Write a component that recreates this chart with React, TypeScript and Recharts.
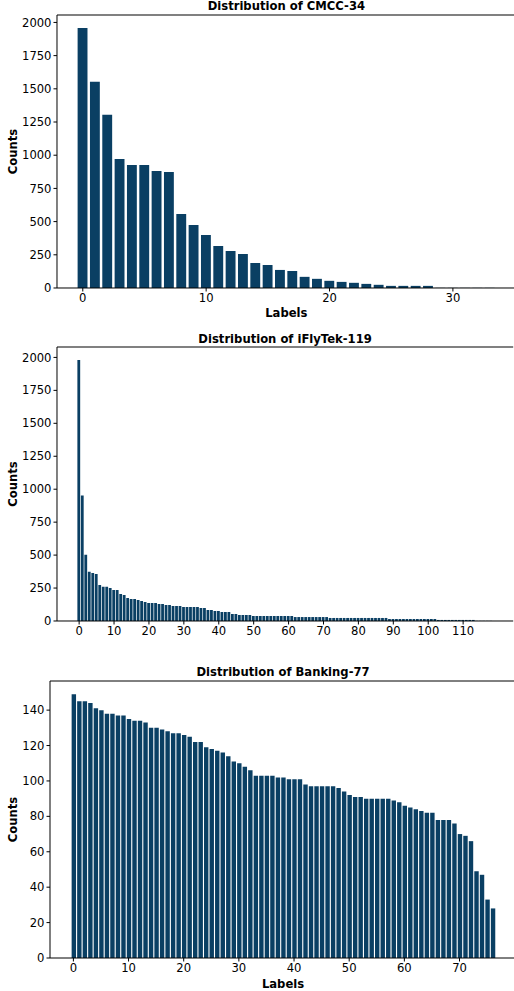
import { BarChart, Bar, XAxis, YAxis, ReferenceLine, Label } from "recharts";

// label counts per class
const cmccCounts = [
  1958, 1553, 1304, 972, 927, 926, 882, 874, 558, 475,
  400, 317, 279, 256, 188, 173, 136, 128, 84, 69,
  54, 46, 39, 31, 24, 16, 16, 16, 16, 1,
  1, 1, 1, 1,
];
const cmccXTicks = [0, 10, 20, 30];
const cmccYTicks = [0, 250, 500, 750, 1000, 1250, 1500, 1750, 2000];

const iflytekCounts = [
  1980, 953, 502, 373, 365, 357, 274, 259, 259, 251,
  236, 236, 205, 198, 175, 167, 167, 160, 152, 144,
  137, 137, 137, 129, 129, 122, 122, 114, 114, 114,
  106, 106, 106, 106, 106, 99, 99, 84, 84, 76,
  76, 68, 68, 68, 53, 53, 46, 46, 46, 46,
  38, 38, 38, 38, 38, 38, 38, 38, 38, 38,
  38, 38, 30, 30, 30, 30, 30, 30, 30, 30,
  30, 30, 23, 23, 23, 23, 23, 23, 23, 23,
  23, 23, 23, 23, 23, 23, 23, 23, 23, 15,
  15, 15, 15, 15, 15, 15, 15, 15, 15, 15,
  15, 15, 15, 8, 8, 8, 8, 8, 8, 8,
  8, 8, 8, 8, 1, 1, 1, 1, 1,
];
const iflytekXTicks = [0, 10, 20, 30, 40, 50, 60, 70, 80, 90, 100, 110];
const iflytekYTicks = [0, 250, 500, 750, 1000, 1250, 1500, 1750, 2000];

const bankingCounts = [
  149, 145, 145, 144, 141, 140, 138, 138, 137, 137,
  135, 134, 134, 133, 130, 130, 129, 128, 127, 127,
  126, 125, 122, 122, 119, 118, 117, 116, 114, 111,
  110, 108, 106, 103, 103, 103, 103, 102, 102, 101,
  101, 101, 98, 97, 97, 97, 97, 97, 96, 94,
  92, 91, 91, 90, 90, 90, 90, 90, 89, 88,
  86, 85, 84, 83, 82, 82, 78, 78, 78, 76,
  70, 69, 66, 49, 47, 33, 28,
];
const bankingXTicks = [0, 10, 20, 30, 40, 50, 60, 70];
const bankingYTicks = [0, 20, 40, 60, 80, 100, 120, 140];

const BAR_COLOR = "#0a3f63";
const FONT = "DejaVu Sans";
const FONT_SIZE = 11.6;

type DistProps = {
  title: string;
  counts: number[];
  xTicks: number[];
  yTicks: number[];
  top: number;
  yAxisWidth: number;
  plotWidth: number;
  plotHeight: number;
  xLabel?: string;
};

function Distribution({ title, counts, xTicks, yTicks, top, yAxisWidth, plotWidth, plotHeight, xLabel }: DistProps) {
  const n = counts.length;
  const data = counts.map((count, label) => ({ label, count }));
  // matplotlib-style 5% margins around the bars
  const pad = 0.05 * (n - 0.2);
  const xDomain = [-0.4 - pad, n - 0.6 + pad];
  const yMax = Math.max(...counts) * 1.05;
  const barSize = (0.8 * plotWidth) / (xDomain[1] - xDomain[0]);
  const mTop = 10;
  const mRight = 4;
  const axisH = xLabel ? 42 : 22;
  const tickStyle = { fill: "#000", fontSize: FONT_SIZE, fontFamily: FONT };
  const labelStyle = { fill: "#000", fontSize: FONT_SIZE, fontWeight: "bold", fontFamily: FONT };

  return (
    <div style={{ position: "absolute", left: 0, top: top - mTop }}>
      <div
        style={{
          position: "absolute",
          left: yAxisWidth,
          width: plotWidth,
          top: mTop - 14.6,
          textAlign: "center",
          fontWeight: "bold",
          fontSize: FONT_SIZE,
          lineHeight: "12px",
          whiteSpace: "nowrap",
          color: "#000",
        }}
      >
        {title}
      </div>
      <BarChart
        width={yAxisWidth + plotWidth + mRight}
        height={mTop + plotHeight + axisH}
        data={data}
        margin={{ top: mTop, right: mRight, left: 0, bottom: 0 }}
      >
        <XAxis
          dataKey="label"
          type="number"
          domain={xDomain}
          ticks={xTicks}
          interval={0}
          height={axisH}
          tickSize={3.5}
          tickMargin={2.5}
          tick={tickStyle}
          stroke="#000"
          allowDataOverflow
        >
          {xLabel && <Label value={xLabel} position="insideBottom" offset={12.5} style={labelStyle} />}
        </XAxis>
        <YAxis
          type="number"
          domain={[0, yMax]}
          ticks={yTicks}
          interval={0}
          width={yAxisWidth}
          tickSize={3.5}
          tickMargin={2}
          tick={tickStyle}
          stroke="#000"
          allowDataOverflow
        >
          <Label
            value="Counts"
            angle={-90}
            position="insideLeft"
            offset={13}
            style={{ ...labelStyle, textAnchor: "middle" }}
          />
        </YAxis>
        <ReferenceLine y={yMax} stroke="#000" />
        <Bar dataKey="count" fill={BAR_COLOR} barSize={barSize} isAnimationActive={false} />
      </BarChart>
    </div>
  );
}

export default function App() {
  return (
    <div
      style={{
        position: "absolute",
        left: 0,
        top: 0,
        width: 514,
        height: 991,
        overflow: "hidden",
        background: "#fff",
        fontFamily: FONT,
      }}
    >
      <Distribution
        title="Distribution of CMCC-34"
        counts={cmccCounts}
        xTicks={cmccXTicks}
        yTicks={cmccYTicks}
        top={15}
        yAxisWidth={57}
        plotWidth={458.7}
        plotHeight={273}
        xLabel="Labels"
      />
      <Distribution
        title="Distribution of iFlyTek-119"
        counts={iflytekCounts}
        xTicks={iflytekXTicks}
        yTicks={iflytekYTicks}
        top={347.3}
        yAxisWidth={57}
        plotWidth={456.2}
        plotHeight={274}
      />
      <Distribution
        title="Distribution of Banking-77"
        counts={bankingCounts}
        xTicks={bankingXTicks}
        yTicks={bankingYTicks}
        top={681}
        yAxisWidth={50}
        plotWidth={466}
        plotHeight={277}
        xLabel="Labels"
      />
    </div>
  );
}
